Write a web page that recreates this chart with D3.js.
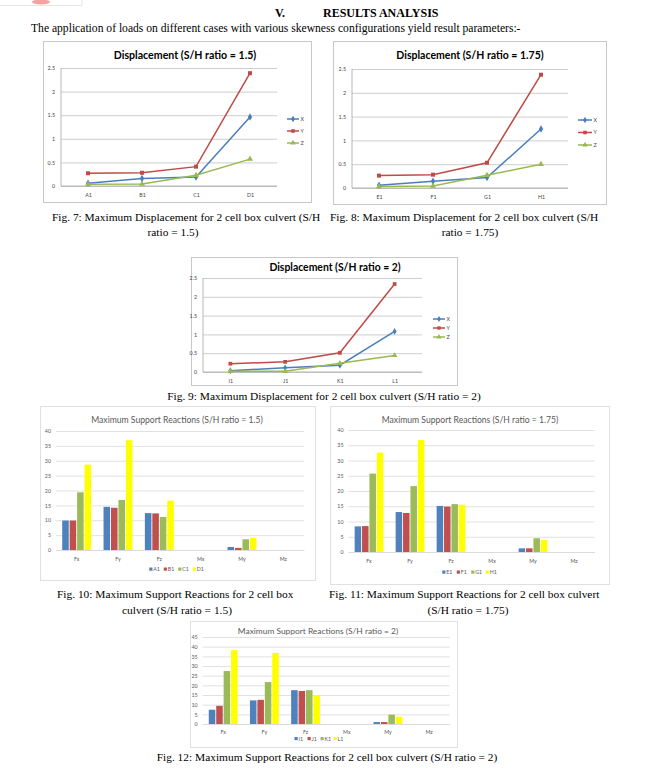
<!DOCTYPE html>
<html>
<head>
<meta charset="utf-8">
<script src="https://cdn.jsdelivr.net/npm/d3@7"></script>
<style>
body { margin: 0; background: #ffffff; }
</style>
</head>
<body>
<svg id="page" width="660" height="768"></svg>
<script>
// ---- data ----
var dispSeries = ["X", "Y", "Z"];
var dispTicks = [0, 0.5, 1, 1.5, 2, 2.5];

var cats7 = ["A1", "B1", "C1", "D1"];
var disp7X = [0.06, 0.16, 0.19, 1.46];
var disp7Y = [0.27, 0.28, 0.41, 2.39];
var disp7Z = [0.035, 0.04, 0.23, 0.57];

var cats8 = ["E1", "F1", "G1", "H1"];
var disp8X = [0.056, 0.14, 0.22, 1.24];
var disp8Y = [0.26, 0.28, 0.53, 2.38];
var disp8Z = [0.03, 0.04, 0.27, 0.50];

var cats9 = ["I1", "J1", "K1", "L1"];
var disp9X = [0.036, 0.11, 0.18, 1.08];
var disp9Y = [0.22, 0.27, 0.51, 2.34];
var disp9Z = [0.02, 0.02, 0.23, 0.44];

var reactCats = ["Fx", "Fy", "Fz", "Mx", "My", "Mz"];

var react10Ticks = [0, 5, 10, 15, 20, 25, 30, 35, 40];
var react10A1 = [9.9, 14.5, 12.4, 0, 1.0, 0];
var react10B1 = [9.9, 14.2, 12.3, 0, 0.7, 0];
var react10C1 = [19.4, 16.8, 11.1, 0, 3.6, 0];
var react10D1 = [28.7, 36.9, 16.6, 0, 4.1, 0];

var react11Ticks = [0, 5, 10, 15, 20, 25, 30, 35, 40];
var react11E1 = [8.4, 13.1, 15.1, 0, 1.2, 0];
var react11F1 = [8.5, 12.8, 14.9, 0, 1.2, 0];
var react11G1 = [25.7, 21.6, 15.7, 0, 4.5, 0];
var react11H1 = [32.6, 36.7, 15.5, 0, 3.9, 0];

var react12Ticks = [0, 5, 10, 15, 20, 25, 30, 35, 40, 45];
var react12I1 = [7.4, 12.2, 17.5, 0, 1.0, 0];
var react12J1 = [9.4, 12.5, 17.1, 0, 1.0, 0];
var react12K1 = [27.4, 21.7, 17.5, 0, 4.8, 0];
var react12L1 = [38.2, 36.8, 14.6, 0, 3.8, 0];

// ---- styles ----
var LINE_COLORS = { "X": "#4a7ebb", "Y": "#be4b48", "Z": "#98b954" };
var LINE_SYMBOLS = { "X": d3.symbolDiamond, "Y": d3.symbolSquare, "Z": d3.symbolTriangle };
var BAR_COLORS = ["#4f81bd", "#c0504d", "#9bbb59", "#ffff00"];
var SERIF = "'Liberation Serif', 'Times New Roman', serif";
var SANS = "Lato, 'Open Sans', sans-serif";
var CAPTION = 11.4;

var svg = d3.select("#page");

// small leftover of the previous page at the very top
svg.append("line").attr("x1", 0).attr("x2", 82).attr("y1", 5.5).attr("y2", 5.5)
	.attr("stroke", "#e6e6e6").attr("stroke-width", 1);
svg.append("line").attr("x1", 82).attr("x2", 82).attr("y1", 0).attr("y2", 5.5)
	.attr("stroke", "#e6e6e6").attr("stroke-width", 1);
svg.append("ellipse").attr("cx", 41).attr("cy", 2).attr("rx", 9).attr("ry", 2.5)
	.attr("fill", "#f5a3a0");

function text(x, y, str, size, anchor, weight, family, fill)
{
	return svg.append("text")
		.attr("x", x).attr("y", y)
		.attr("text-anchor", anchor || "start")
		.attr("font-family", family || SERIF)
		.attr("font-size", size)
		.attr("font-weight", weight || "normal")
		.attr("fill", fill || "#000")
		.text(str);
}

// Heading and first line of text.
text(275, 17, "V.", 12, "start", "bold");
text(323, 17, "RESULTS ANALYSIS", 12, "start", "bold");
text(31, 32, "The application of loads on different cases with various skewness configurations yield result parameters:-", 11.6);

function lineChart(cfg, cats, values)
{
	var g = svg.append("g");
	g.append("rect")
		.attr("x", cfg.box[0] + 0.5).attr("y", cfg.box[1] + 0.5)
		.attr("width", cfg.box[2] - cfg.box[0]).attr("height", cfg.box[3] - cfg.box[1])
		.attr("fill", "#fff").attr("stroke", "#c8c8c8");

	var x = d3.scalePoint().domain(cats).range([cfg.left, cfg.right]).padding(0.5);
	var y = d3.scaleLinear().domain([0, 2.5]).range([cfg.bottom, cfg.top]);

	var yAxis = d3.axisLeft(y).tickValues(dispTicks).tickSize(cfg.left - cfg.right).tickPadding(6)
		.tickFormat(function (d) { return String(d); });
	var ya = g.append("g").attr("transform", "translate(" + cfg.left + ",0)").call(yAxis);
	ya.select(".domain").remove();
	ya.selectAll(".tick line").attr("stroke", "#c0c0c0").attr("stroke-width", 0.8);
	ya.selectAll(".tick text").attr("font-family", SANS).attr("font-size", 5.3).attr("fill", "#444");
	g.append("line").attr("x1", cfg.left).attr("x2", cfg.left).attr("y1", cfg.top).attr("y2", cfg.bottom)
		.attr("stroke", "#a6a6a6").attr("stroke-width", 0.8);

	var xAxis = d3.axisBottom(x).tickSize(0).tickPadding(7);
	var xa = g.append("g").attr("transform", "translate(0," + cfg.bottom + ")").call(xAxis);
	xa.select(".domain").attr("stroke", "#a6a6a6").attr("stroke-width", 0.8)
		.attr("d", "M" + cfg.left + ",0H" + cfg.right);
	xa.selectAll(".tick text").attr("font-family", SANS).attr("font-size", 5.3).attr("fill", "#444");

	var line = d3.line().x(function (d, i) { return x(cats[i]); }).y(function (d) { return y(d); });
	dispSeries.forEach(function (s, k)
	{
		g.append("path").datum(values[k]).attr("d", line)
			.attr("fill", "none").attr("stroke", LINE_COLORS[s]).attr("stroke-width", 1.5);
		g.selectAll(null).data(values[k]).enter().append("path")
			.attr("transform", function (d, i) { return "translate(" + x(cats[i]) + "," + y(d) + ")"; })
			.attr("d", d3.symbol().type(LINE_SYMBOLS[s]).size(cfg.marker))
			.attr("fill", LINE_COLORS[s]);
		// legend entry
		var ly = cfg.legendY[k];
		g.append("line").attr("x1", cfg.legendX).attr("x2", cfg.legendX + cfg.legendLen)
			.attr("y1", ly).attr("y2", ly).attr("stroke", LINE_COLORS[s]).attr("stroke-width", 1.5);
		g.append("path").attr("transform", "translate(" + (cfg.legendX + cfg.legendLen / 2) + "," + ly + ")")
			.attr("d", d3.symbol().type(LINE_SYMBOLS[s]).size(cfg.marker * 0.8))
			.attr("fill", LINE_COLORS[s]);
		g.append("text").attr("x", cfg.legendX + cfg.legendLen + 1.5).attr("y", ly + 1.8)
			.attr("font-family", SANS).attr("font-size", 5.3).attr("fill", "#444").text(s);
	});

	g.append("text").attr("x", cfg.titleX).attr("y", cfg.titleY).attr("text-anchor", "middle")
		.attr("font-family", SANS).attr("font-weight", "bold").attr("font-size", cfg.titleSize)
		.attr("fill", "#000").text(cfg.title);
}

function barChart(cfg, series, values, ticks)
{
	var g = svg.append("g");
	g.append("rect")
		.attr("x", cfg.box[0] + 0.5).attr("y", cfg.box[1] + 0.5)
		.attr("width", cfg.box[2] - cfg.box[0]).attr("height", cfg.box[3] - cfg.box[1])
		.attr("fill", "#fff").attr("stroke", "#e0e0e0");

	var x0 = d3.scaleBand().domain(reactCats).range([cfg.left, cfg.right]).paddingInner(0.3).paddingOuter(0.15);
	var x1 = d3.scaleBand().domain(series).range([0, x0.bandwidth()]).paddingInner(0.12);
	var y = d3.scaleLinear().domain([0, ticks[ticks.length - 1]]).range([cfg.bottom, cfg.top]);

	var yAxis = d3.axisLeft(y).tickValues(ticks).tickSize(cfg.left - cfg.right).tickPadding(5);
	var ya = g.append("g").attr("transform", "translate(" + cfg.left + ",0)").call(yAxis);
	ya.select(".domain").remove();
	ya.selectAll(".tick line").attr("stroke", "#d9d9d9").attr("stroke-width", 0.8);
	ya.selectAll(".tick text").attr("font-family", SANS).attr("font-size", 5.3).attr("fill", "#595959");

	var xAxis = d3.axisBottom(x0).tickSize(0).tickPadding(cfg.catPad);
	var xa = g.append("g").attr("transform", "translate(0," + cfg.bottom + ")").call(xAxis);
	xa.select(".domain").attr("stroke", "#d9d9d9").attr("stroke-width", 0.8);
	xa.selectAll(".tick text").attr("font-family", SANS).attr("font-size", 5.3).attr("fill", "#595959");

	series.forEach(function (s, k)
	{
		g.selectAll(null).data(values[k]).enter().append("rect")
			.attr("x", function (d, i) { return x0(reactCats[i]) + x1(s); })
			.attr("y", function (d) { return y(d); })
			.attr("width", x1.bandwidth())
			.attr("height", function (d) { return y(0) - y(d); })
			.attr("fill", BAR_COLORS[k]);
	});

	// legend, centred under the plot
	var lx = d3.scalePoint().domain(series).range([cfg.legendX - 1.5 * cfg.legendStep, cfg.legendX + 1.5 * cfg.legendStep]);
	series.forEach(function (s, k)
	{
		g.append("rect").attr("x", lx(s) - 6).attr("y", cfg.legendY - 3.5).attr("width", 3.2).attr("height", 3.2)
			.attr("fill", BAR_COLORS[k]);
		g.append("text").attr("x", lx(s) - 2).attr("y", cfg.legendY).attr("font-family", SANS)
			.attr("font-size", 5.3).attr("fill", "#595959").text(s);
	});

	g.append("text").attr("x", cfg.titleX).attr("y", cfg.titleY).attr("text-anchor", "middle")
		.attr("font-family", SANS).attr("font-size", cfg.titleSize).attr("fill", "#595959").text(cfg.title);
}

// ---- Fig. 7, 8, 9 ----
lineChart({ box: [43, 41, 311, 202], left: 61, right: 277, top: 68, bottom: 186,
	title: "Displacement (S/H ratio = 1.5)", titleX: 185, titleY: 59, titleSize: 10.6,
	legendX: 287, legendLen: 12, legendY: [119, 131, 143], marker: 16 },
	cats7, [disp7X, disp7Y, disp7Z]);

lineChart({ box: [333, 41, 606, 204], left: 352, right: 568, top: 69, bottom: 188,
	title: "Displacement (S/H ratio = 1.75)", titleX: 470, titleY: 58.5, titleSize: 10.5,
	legendX: 578, legendLen: 14, legendY: [120, 132.5, 145], marker: 16 },
	cats8, [disp8X, disp8Y, disp8Z]);

lineChart({ box: [191, 257, 457, 385], left: 203, right: 422, top: 278, bottom: 372,
	title: "Displacement (S/H ratio = 2)", titleX: 335, titleY: 271, titleSize: 10.4,
	legendX: 433, legendLen: 12, legendY: [319, 328, 337], marker: 14 },
	cats9, [disp9X, disp9Y, disp9Z]);

text(52, 221, "Fig. 7: Maximum Displacement for 2 cell box culvert (S/H", CAPTION);
text(173, 236, "ratio = 1.5)", CAPTION, "middle");
text(330, 221, "Fig. 8: Maximum Displacement for 2 cell box culvert (S/H", CAPTION);
text(470, 236, "ratio = 1.75)", CAPTION, "middle");
text(324, 400, "Fig. 9: Maximum Displacement for 2 cell box culvert (S/H ratio = 2)", CAPTION, "middle");

// ---- Fig. 10, 11, 12 ----
barChart({ box: [40, 406, 315, 580], left: 56, right: 304, top: 431, bottom: 550, catPad: 7,
	title: "Maximum Support Reactions (S/H ratio = 1.5)", titleX: 177, titleY: 423, titleSize: 8.6,
	legendX: 177, legendY: 571, legendStep: 14.5 },
	["A1", "B1", "C1", "D1"], [react10A1, react10B1, react10C1, react10D1], react10Ticks);

barChart({ box: [330, 406, 609, 584], left: 348.5, right: 594.5, top: 430, bottom: 552, catPad: 7,
	title: "Maximum Support Reactions (S/H ratio = 1.75)", titleX: 470, titleY: 423, titleSize: 8.6,
	legendX: 470, legendY: 574, legendStep: 14.5 },
	["E1", "F1", "G1", "H1"], [react11E1, react11F1, react11G1, react11H1], react11Ticks);

barChart({ box: [190, 621, 457, 747], left: 202.6, right: 449.7, top: 637, bottom: 724, catPad: 6,
	title: "Maximum Support Reactions (S/H ratio = 2)", titleX: 318, titleY: 633.5, titleSize: 8.4,
	legendX: 320, legendY: 740.5, legendStep: 13 },
	["I1", "J1", "K1", "L1"], [react12I1, react12J1, react12K1, react12L1], react12Ticks);

text(57, 598, "Fig. 10: Maximum Support Reactions for 2 cell box", CAPTION);
text(177, 614, "culvert (S/H ratio = 1.5)", CAPTION, "middle");
text(329, 598, "Fig. 11: Maximum Support Reactions for 2 cell box culvert", CAPTION);
text(468, 614, "(S/H ratio = 1.75)", CAPTION, "middle");
text(327, 761, "Fig. 12: Maximum Support Reactions for 2 cell box culvert (S/H ratio = 2)", CAPTION, "middle");
</script>
</body>
</html>
